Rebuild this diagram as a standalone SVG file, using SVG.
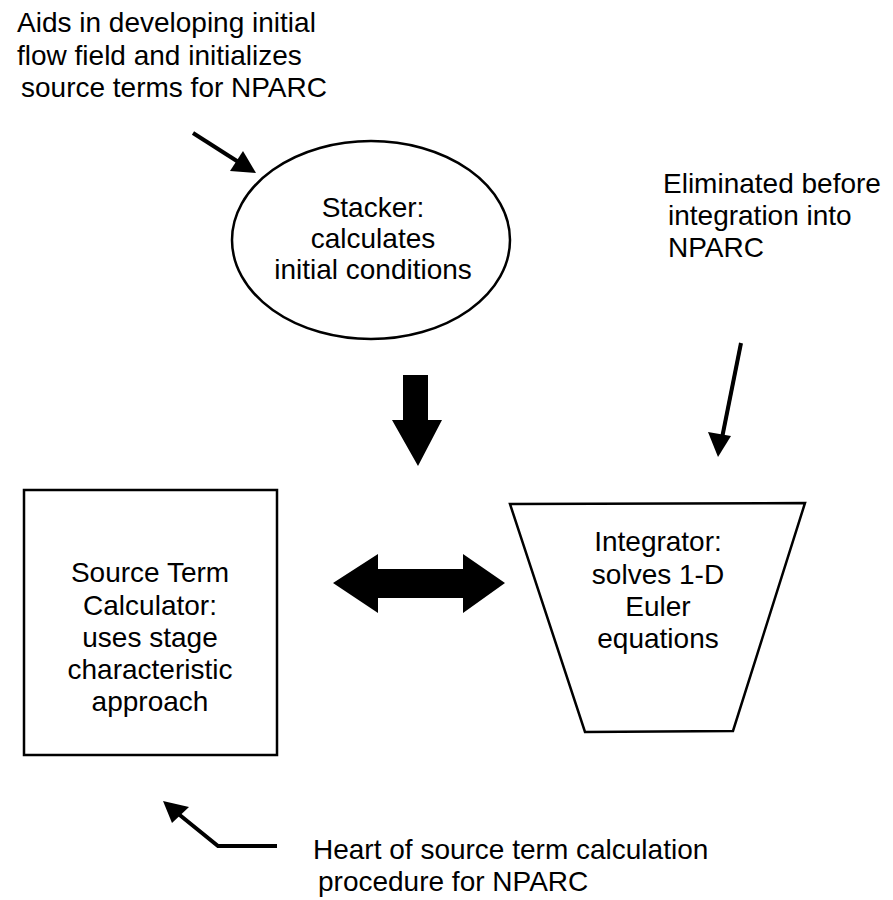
<svg xmlns="http://www.w3.org/2000/svg" width="893" height="900" viewBox="0 0 893 900">
<defs>
<style>
text{font-family:"Liberation Sans",Arial,Helvetica,sans-serif;font-size:28px;fill:#000}
.c{text-anchor:middle}
.shape{fill:#fff;stroke:#000;stroke-width:2.5}
.ln{fill:none;stroke:#000;stroke-width:4}
.solid{fill:#000;stroke:none}
</style>
</defs>
<rect width="893" height="900" fill="#fff"/>

<g id="note-top">
<text x="17" y="32">Aids in developing initial</text>
<text x="17" y="65">flow field and initializes</text>
<text x="21" y="97">source terms for NPARC</text>
</g>

<g id="stacker">
<ellipse class="shape" cx="371" cy="240" rx="139" ry="99"/>
<text class="c" x="373" y="217">Stacker:</text>
<text class="c" x="373" y="248">calculates</text>
<text class="c" x="373" y="279">initial conditions</text>
</g>

<g id="note-right">
<text x="663" y="193">Eliminated before</text>
<text x="668" y="225">integration into</text>
<text x="668" y="257">NPARC</text>
</g>

<g id="source-term-calculator">
<rect class="shape" x="24" y="490" width="253" height="265"/>
<text class="c" x="150" y="582">Source Term</text>
<text class="c" x="150" y="615">Calculator:</text>
<text class="c" x="150" y="647">uses stage</text>
<text class="c" x="150" y="679">characteristic</text>
<text class="c" x="150" y="711">approach</text>
</g>

<g id="integrator">
<polygon class="shape" points="510,504 805,503 733,731 585,732"/>
<text class="c" x="658" y="551">Integrator:</text>
<text class="c" x="658" y="584">solves 1-D</text>
<text class="c" x="658" y="616">Euler</text>
<text class="c" x="658" y="648">equations</text>
</g>

<g id="note-bottom">
<text x="313" y="859">Heart of source term calculation</text>
<text x="318" y="891">procedure for NPARC</text>
</g>

<g id="connectors">
<path class="ln" d="M193,133 L240,163"/>
<polygon class="solid" points="256,173 230,171 243,151"/>
<path class="ln" d="M741,343 L722,438"/>
<polygon class="solid" points="718,457 708,432 731,436"/>
<polygon class="solid" points="403,375 428,375 428,420 442,420 418,466 392,420 403,420"/>
<polygon class="solid" points="333,583 378,554 378,569 463,569 463,554 505,583 463,613 463,598 378,598 378,613"/>
<path class="ln" d="M277,846 L218,846 L176,812"/>
<polygon class="solid" points="163,801 189,807 172,823"/>
</g>
</svg>
